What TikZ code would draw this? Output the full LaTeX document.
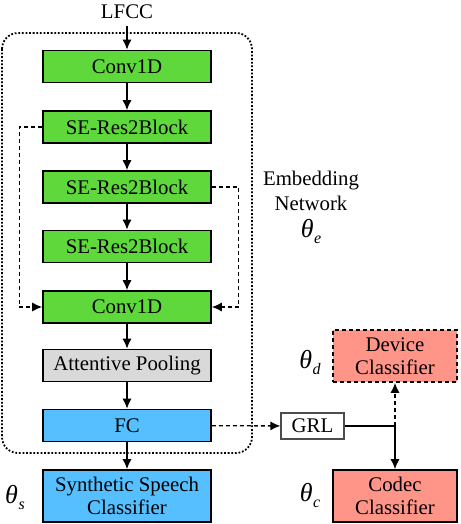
\documentclass[tikz,border=0pt]{standalone}
\usepackage{fontspec}
\setmainfont{Liberation Serif}
\usetikzlibrary{arrows.meta}
\definecolor{blockgreen}{RGB}{94,216,58}
\definecolor{blockgray}{RGB}{217,217,217}
\definecolor{blockblue}{RGB}{85,191,255}
\definecolor{blockred}{RGB}{255,148,136}
\newcommand{\paramof}[1]{{\fontsize{13}{14}\selectfont\itshape θ}\kern0.3pt\raisebox{-3pt}{\fontsize{8}{9}\selectfont\itshape #1}}
\tikzset{
  block/.style={draw, line width=0.8pt, minimum width=84pt, minimum height=16pt, inner sep=0pt, align=center},
  tall/.style={minimum height=26pt},
  flow/.style={line width=0.65pt, -{Latex[length=5pt,width=4.5pt]}},
  skip/.style={flow, dash pattern=on 2pt off 1.5pt},
}

\begin{document}
\begin{tikzpicture}[x=0.5pt,y=-0.5pt,font=\fontsize{10.4}{12.5}\selectfont]
    \useasboundingbox (0,0) rectangle (460,524);
    % embedding network
    \draw[line width=0.9pt, dash pattern=on 0.9pt off 0.9pt, rounded corners=8pt] (2,33) rectangle (252,453);
    \node (lfcc) at (127,12) {LFCC};
    \node[block, fill=blockgreen] (conv1) at (127,66.5) {Conv1D};
    \node[block, fill=blockgreen] (res1) at (127,127) {SE-Res2Block};
    \node[block, fill=blockgreen] (res2) at (127,187) {SE-Res2Block};
    \node[block, fill=blockgreen] (res3) at (127,246.5) {SE-Res2Block};
    \node[block, fill=blockgreen] (conv2) at (127,307) {Conv1D};
    \node[block, fill=blockgray] (pool) at (127,365.5) {Attentive Pooling};
    \node[block, fill=blockblue] (fc) at (127,425.5) {FC};
    \node[block, tall, fill=blockblue] (synth) at (127,496) {Synthetic Speech\\[-1pt]Classifier};
    \node[align=center] (embed) at (311,207) {Embedding\\Network\\[1pt]\paramof{e}};
    % heads
    \node[draw=black!70, line width=0.6pt, minimum width=31.5pt, minimum height=13pt, inner sep=0pt] (grl) at (312.5,426) {GRL};
    \node[block, tall, minimum width=62pt, fill=blockred, dash pattern=on 2pt off 1.5pt] (device) at (395,356) {Device\\[-1pt]Classifier};
    \node[block, tall, minimum width=62pt, fill=blockred] (codec) at (395,496) {Codec\\[-1pt]Classifier};
    \node (ts) at (15,497) {\paramof{s}};
    \node (tc) at (310,495) {\paramof{c}};
    \node (td) at (310,362) {\paramof{d}};
    % connectors
    \draw[flow] (lfcc) -- (conv1);
    \draw[flow] (conv1) -- (res1);
    \draw[flow] (res1) -- (res2);
    \draw[flow] (res2) -- (res3);
    \draw[flow] (res3) -- (conv2);
    \draw[flow] (conv2) -- (pool);
    \draw[flow] (pool) -- (fc);
    \draw[flow] (fc) -- (synth);
    \draw[skip] (res1.west) -- ++(-23,0) |- (conv2.west);
    \draw[skip] (res2.east) -- ++(27,0) |- (conv2.east);
    \draw[skip] (fc) -- (grl);
    \coordinate (split) at (device.south |- grl.east);
    \draw[line width=0.65pt] (grl.east) -- (split);
    \draw[flow] (split) -- (codec);
    \draw[skip] (split) -- (device);
\end{tikzpicture}
\end{document}
